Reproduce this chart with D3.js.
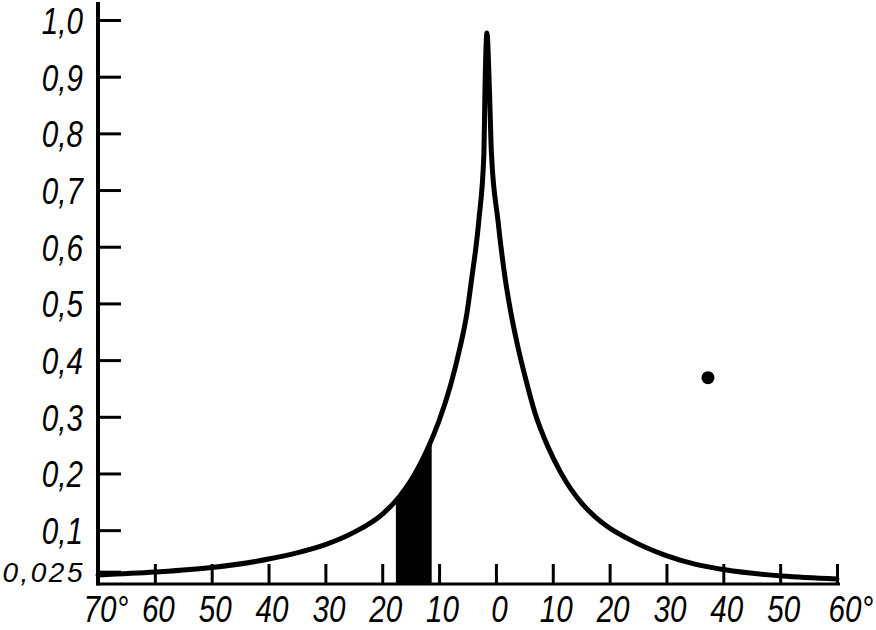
<!DOCTYPE html>
<html>
<head>
<meta charset="utf-8">
<script src="https://cdn.jsdelivr.net/npm/d3@7"></script>
<style>
  html, body { margin: 0; padding: 0; background: #fff; }
  svg { display: block; }
  .lbl { font-family: "Liberation Sans", Arial, sans-serif; font-style: italic; fill: #000; }
</style>
</head>
<body>
<svg id="chart" width="876" height="630"></svg>
<script>
// ---- data ----
const curveX = [-70, -60, -50, -40, -35, -30, -25, -20, -17, -15, -12, -10, -8, -6.3, -5.1, -4.3, -3.0, -2.11, -1.93, -1.58, -1.14, -0.79, 0.35, 1.67, 2.64, 3.87, 5.28, 6.86, 9.15, 11.43, 15.3, 17.41, 19.53, 23.04, 29.73, 35.0, 40.28, 50.31, 60];
const curveY = [0.021, 0.026, 0.034, 0.049, 0.060, 0.0745, 0.096, 0.128, 0.159, 0.187, 0.244, 0.293, 0.355, 0.423, 0.483, 0.541, 0.647, 0.765, 0.876, 0.977, 0.876, 0.765, 0.647, 0.541, 0.483, 0.423, 0.365, 0.307, 0.247, 0.201, 0.145, 0.124, 0.107, 0.086, 0.056, 0.040, 0.030, 0.019, 0.0138];
const xTicks = [-70, -60, -50, -40, -30, -20, -10, 0, 10, 20, 30, 40, 50, 60];
const xTickLabels = ["70°", "60", "50", "40", "30", "20", "10", "0", "10", "20", "30", "40", "50", "60°"];
const yTicks = [0.025, 0.1, 0.2, 0.3, 0.4, 0.5, 0.6, 0.7, 0.8, 0.9, 1.0];
const yTickLabels = ["0,025", "0,1", "0,2", "0,3", "0,4", "0,5", "0,6", "0,7", "0,8", "0,9", "1,0"];
const shadedRange = [-17.6, -11.3];
const dotPoint = [37.3, 0.369];

// ---- scales ----
const x = d3.scaleLinear().domain([-70, 60]).range([98, 837]);
const y = d3.scaleLinear().domain([0.005, 1.0]).range([584, 20]);

const svg = d3.select("#chart");
const pts = curveX.map((v, i) => [v, curveY[i]]);

// shaded area (clipped)
svg.append("clipPath").attr("id", "shadeClip")
  .append("rect")
  .attr("x", x(shadedRange[0])).attr("width", x(shadedRange[1]) - x(shadedRange[0]))
  .attr("y", 0).attr("height", 630);

const area = d3.area().x(d => x(d[0])).y0(y(0.005)).y1(d => y(d[1])).curve(d3.curveMonotoneX);
svg.append("path").datum(pts).attr("d", area)
  .attr("fill", "#000").attr("clip-path", "url(#shadeClip)");

const SX = 0.8;

// x axis
const xAxis = d3.axisBottom(x).tickValues(xTicks)
  .tickFormat((d, i) => xTickLabels[i])
  .tickSizeInner(-20).tickSizeOuter(0).tickPadding(12);
const gx = svg.append("g").attr("transform", `translate(0,${y(0.005)})`).call(xAxis);
gx.select(".domain").attr("stroke", "#000").attr("stroke-width", 3)
  .attr("d", `M${x(-70) - 1},0H${x(60) + 3}`);
gx.selectAll(".tick line").attr("stroke", "#000").attr("stroke-width", 3);
gx.selectAll(".tick text").attr("class", "lbl").attr("font-size", 37)
  .attr("transform", `scale(${SX},1)`)
  .attr("text-anchor", (d, i) => (i === 0 || i === xTicks.length - 1) ? "start" : "middle")
  .attr("x", (d, i) => (i === 0 ? -15 : (i === xTicks.length - 1 ? -9 : 3)) / SX);

// y axis
const yAxis = d3.axisLeft(y).tickValues(yTicks)
  .tickFormat((d, i) => yTickLabels[i])
  .tickSizeInner(-23).tickSizeOuter(0).tickPadding(15);
const gy = svg.append("g").attr("transform", `translate(${x(-70)},0)`).call(yAxis);
gy.select(".domain").attr("stroke", "#000").attr("stroke-width", 4)
  .attr("d", `M0,2V${y(0.005) + 1.5}`);
gy.selectAll(".tick line").attr("stroke", "#000").attr("stroke-width", (d) => d === 0.025 ? 5 : 3);
gy.selectAll(".tick text").attr("class", "lbl")
  .attr("font-size", d => d === 0.025 ? 28 : 37)
  .attr("letter-spacing", d => d === 0.025 ? 2.5 : 0)
  .attr("transform", d => d === 0.025 ? null : `scale(${SX},1)`)
  .attr("x", d => d === 0.025 ? -13 : -15 / SX)
  .attr("dy", d => d === 0.025 ? "0.3em" : "0.36em");

// curve
const line = d3.line().x(d => x(d[0])).y(d => y(d[1])).curve(d3.curveMonotoneX);
svg.append("path").datum(pts).attr("d", line)
  .attr("fill", "none").attr("stroke", "#000").attr("stroke-width", 5)
  .attr("stroke-linejoin", "round").attr("stroke-linecap", "round");

// dot
svg.append("circle").attr("cx", x(dotPoint[0])).attr("cy", y(dotPoint[1])).attr("r", 6.5).attr("fill", "#000");
</script>
</body>
</html>
